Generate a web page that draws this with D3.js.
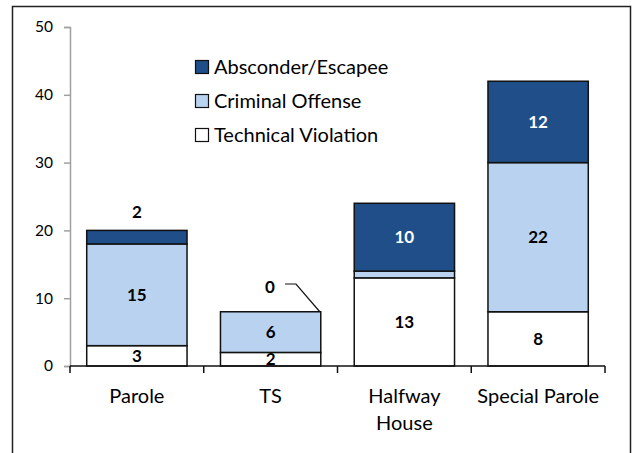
<!DOCTYPE html>
<html><head><meta charset="utf-8">
<script src="https://cdn.jsdelivr.net/npm/d3@7"></script>
<style>body{margin:0;background:#fff;}svg{display:block;font-family:Lato,"Open Sans",sans-serif;}</style>
</head><body>
<script>
const categories = ["Parole", "TS", "Halfway House", "Special Parole"];
const technical = [3, 2, 13, 8];
const criminal = [15, 6, 1, 22];
const absconder = [2, 0, 10, 12];
const seriesNames = ["Technical Violation", "Criminal Offense", "Absconder/Escapee"];
const yTicks = [0, 10, 20, 30, 40, 50];

const W = 634, H = 453;
const svg = d3.select("body").append("svg").attr("width", W).attr("height", H);
svg.append("rect").attr("x", 12.5).attr("y", 6.5).attr("width", 618).attr("height", 460)
  .attr("fill", "none").attr("stroke", "#222").attr("stroke-width", 1.5);

const colors = ["#ffffff", "#b9d2ef", "#1f4e89"];
const x = d3.scaleBand().domain(categories).range([70, 605]).paddingInner(0.25).paddingOuter(0.125);
const y = d3.scaleLinear().domain([0, 50]).range([366, 27]);

const rows = categories.map((c, i) => ({cat: c, "Technical Violation": technical[i], "Criminal Offense": criminal[i], "Absconder/Escapee": absconder[i]}));
const stack = d3.stack().keys(seriesNames)(rows);

// y axis
const yAxis = svg.append("g").attr("transform", "translate(70,0)")
  .call(d3.axisLeft(y).tickValues(yTicks).tickSize(6).tickPadding(11));
yAxis.select(".domain").attr("stroke", "#a0a0a0").attr("stroke-width", 1.5);
yAxis.selectAll(".tick line").attr("stroke", "#a0a0a0").attr("stroke-width", 1.5);
yAxis.selectAll("text").attr("font-size", 15.5).attr("fill", "#000").attr("font-family", "Lato,sans-serif");

// bars
stack.forEach((s, si) => {
  svg.append("g").selectAll("rect").data(s).join("rect")
    .attr("x", d => x(d.data.cat))
    .attr("y", d => y(d[1]))
    .attr("width", x.bandwidth())
    .attr("height", d => y(d[0]) - y(d[1]))
    .attr("fill", colors[si])
    .attr("stroke", "#111").attr("stroke-width", 1.5);
});

// x axis
const xb = svg.append("g").attr("transform", "translate(0,366)");
xb.append("line").attr("x1", 70).attr("x2", 605).attr("stroke", "#111").attr("stroke-width", 1.5);
d3.range(5).forEach(i => {
  const tx = 70 + i * (535 / 4);
  xb.append("line").attr("x1", tx).attr("x2", tx).attr("y1", 0).attr("y2", 7).attr("stroke", "#111").attr("stroke-width", 1.5);
});
categories.forEach(c => {
  const cx = x(c) + x.bandwidth() / 2;
  const parts = c === "Halfway House" ? ["Halfway", "House"] : [c];
  parts.forEach((p, k) => {
    svg.append("text").attr("x", cx).attr("y", 396 + k * 27).attr("dy", "0.36em").attr("text-anchor", "middle")
      .attr("font-size", 20).attr("fill", "#000").text(p);
  });
});

// data labels
stack.forEach((s, si) => {
  s.forEach((d, i) => {
    const v = d[1] - d[0];
    const cx = x(d.data.cat) + x.bandwidth() / 2;
    const cat = d.data.cat;
    if (cat === "Halfway House" && si === 1) return;
    let ly = (y(d[0]) + y(d[1])) / 2;
    let lx = cx;
    if (cat === "Parole" && si === 2) ly = y(d[1]) - 19;
    if (cat === "TS" && si === 2) { lx = 270; ly = 287; }
    svg.append("text").attr("x", lx).attr("y", ly).attr("dy", "0.36em").attr("text-anchor", "middle")
      .attr("font-size", 17).attr("font-weight", "bold")
      .attr("fill", (si === 2 && v >= 10) ? "#fff" : "#000").text(v);
    if (cat === "TS" && si === 2) {
      svg.append("path")
        .attr("d", `M285,284 L296,284 L${x(cat) + x.bandwidth() - 1},${y(d[1])}`)
        .attr("fill", "none").attr("stroke", "#111").attr("stroke-width", 1.2);
    }
  });
});

// legend
const legendOrder = ["Absconder/Escapee", "Criminal Offense", "Technical Violation"];
const legendColors = ["#1f4e89", "#b9d2ef", "#ffffff"];
legendOrder.forEach((n, i) => {
  const ly = 67 + i * 34;
  svg.append("rect").attr("x", 195.5).attr("y", ly - 6.5).attr("width", 13).attr("height", 13)
    .attr("fill", legendColors[i]).attr("stroke", "#111").attr("stroke-width", 1.2);
  svg.append("text").attr("x", 214).attr("y", ly).attr("dy", "0.36em")
    .attr("font-size", 20).attr("fill", "#000").text(n);
});
</script>
</body></html>
